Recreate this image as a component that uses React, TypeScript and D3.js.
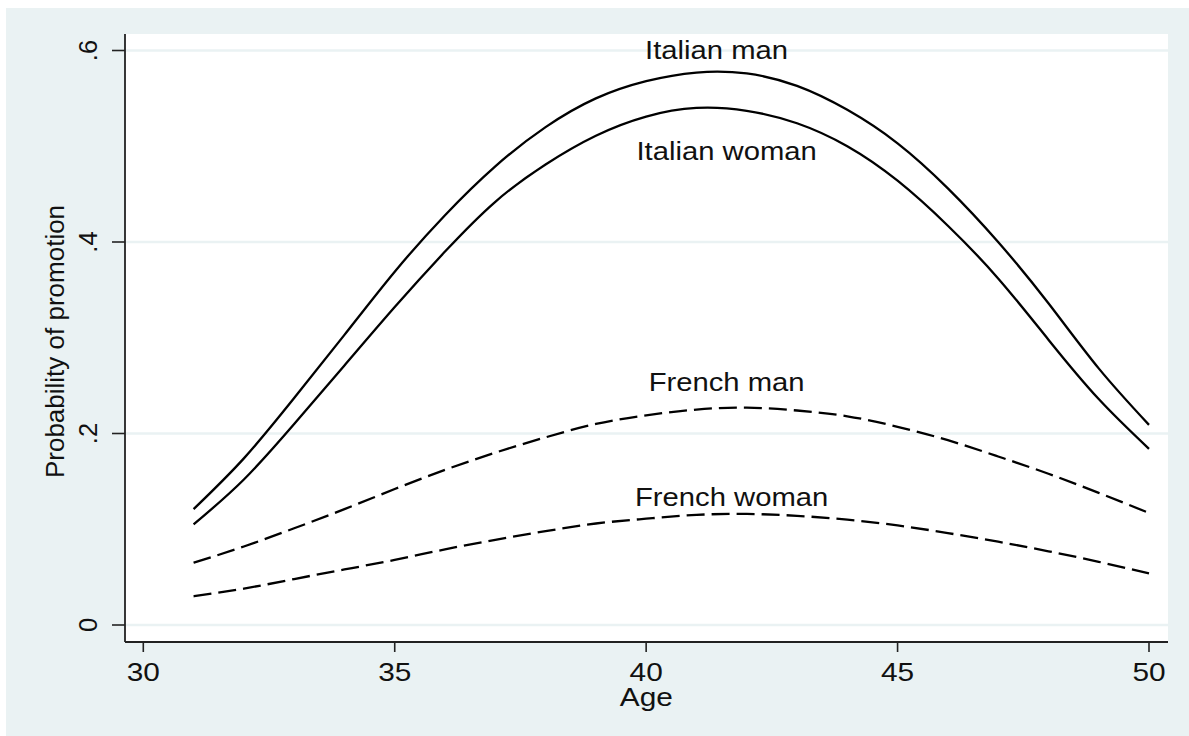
import * as d3 from 'd3'

const AGES = [31, 32, 33, 34, 35, 36, 37, 38, 39, 40, 41, 42, 43, 44, 45, 46, 47, 48, 49, 50]

const ITALIAN_MAN = [0.121, 0.174, 0.237, 0.303, 0.369, 0.428, 0.479, 0.52, 0.55, 0.568, 0.577, 0.576, 0.563, 0.538, 0.503, 0.456, 0.4, 0.336, 0.268, 0.209]
const ITALIAN_WOMAN = [0.105, 0.152, 0.21, 0.271, 0.332, 0.39, 0.442, 0.481, 0.511, 0.531, 0.54, 0.537, 0.524, 0.5, 0.464, 0.417, 0.362, 0.298, 0.236, 0.184]
const FRENCH_MAN = [0.065, 0.082, 0.101, 0.121, 0.142, 0.162, 0.18, 0.196, 0.21, 0.219, 0.225, 0.227, 0.224, 0.218, 0.207, 0.193, 0.176, 0.158, 0.138, 0.117]
const FRENCH_WOMAN = [0.03, 0.038, 0.048, 0.058, 0.068, 0.079, 0.089, 0.098, 0.106, 0.111, 0.115, 0.116, 0.114, 0.11, 0.104, 0.096, 0.087, 0.077, 0.066, 0.054]

const X_TICKS = [30, 35, 40, 45, 50]
const Y_TICKS = [0, 0.2, 0.4, 0.6]
const Y_TICK_LABELS = ['0', '.2', '.4', '.6']

const SERIES = [
  { name: 'Italian man', values: ITALIAN_MAN, dashed: false, labelAt: [41.4, 0.591] },
  { name: 'Italian woman', values: ITALIAN_WOMAN, dashed: false, labelAt: [41.6, 0.486] },
  { name: 'French man', values: FRENCH_MAN, dashed: true, labelAt: [41.6, 0.244] },
  { name: 'French woman', values: FRENCH_WOMAN, dashed: true, labelAt: [41.7, 0.124] },
]

const W = 1189
const H = 736
const FONT = 'Liberation Sans, Arial, Helvetica, sans-serif'
const BG = '#eaf2f3'
const STRETCH = 1.17

// horizontal text in the original is a bit wide, so stretch it sideways
function HText({ x, y, children, size = 25.5 }: { x: number; y: number; children: string; size?: number }) {
  return (
    <text
      transform={`translate(${x},${y}) scale(${STRETCH},1)`}
      textAnchor="middle"
      fontFamily={FONT}
      fontSize={size}
      fill="#111"
    >
      {children}
    </text>
  )
}

export default function App() {
  const plot = { left: 125, right: 1168, top: 34, bottom: 642 }
  const x = d3.scaleLinear().domain([30, 50]).range([143.3, 1149])
  const y = d3.scaleLinear().domain([0, 0.6]).range([625, 50.5])

  const line = d3
    .line<number>()
    .x((_, i) => x(AGES[i]))
    .y((d) => y(d))
    .curve(d3.curveNatural)

  return (
    <svg width={W} height={H} style={{ position: 'absolute', left: 0, top: 0, display: 'block' }}>
      <rect x={0} y={0} width={W} height={H} fill="#fff" />
      <rect x={6} y={8} width={W - 6} height={H - 8} fill={BG} />
      <rect x={plot.left} y={plot.top} width={plot.right - plot.left} height={plot.bottom - plot.top} fill="#fff" />

      {/* gridlines */}
      {Y_TICKS.map((t) => (
        <line key={t} x1={plot.left} x2={plot.right} y1={y(t)} y2={y(t)} stroke={BG} strokeWidth={2.6} />
      ))}

      {/* series */}
      {SERIES.map((s) => (
        <path
          key={s.name}
          d={line(s.values) ?? ''}
          fill="none"
          stroke="#000"
          strokeWidth={2.3}
          strokeDasharray={s.dashed ? '18,7' : undefined}
        />
      ))}

      {SERIES.map((s) => (
        <HText key={s.name} x={x(s.labelAt[0])} y={y(s.labelAt[1])} size={25}>
          {s.name}
        </HText>
      ))}

      {/* axes */}
      <line x1={plot.left} x2={plot.left} y1={plot.top} y2={plot.bottom} stroke="#222" strokeWidth={1.8} />
      <line x1={plot.left} x2={plot.right} y1={plot.bottom} y2={plot.bottom} stroke="#222" strokeWidth={1.8} />

      {Y_TICKS.map((t, i) => (
        <g key={t}>
          <line x1={112} x2={plot.left} y1={y(t)} y2={y(t)} stroke="#222" strokeWidth={1.6} />
          <text
            transform={`translate(97,${y(t)}) rotate(-90)`}
            textAnchor="middle"
            fontFamily={FONT}
            fontSize={25.5}
            fill="#111"
          >
            {Y_TICK_LABELS[i]}
          </text>
        </g>
      ))}

      {X_TICKS.map((t) => (
        <g key={t}>
          <line x1={x(t)} x2={x(t)} y1={plot.bottom} y2={652} stroke="#222" strokeWidth={1.6} />
          <HText x={x(t)} y={681}>{String(t)}</HText>
        </g>
      ))}

      <HText x={646.3} y={706}>Age</HText>
      <text
        transform={`translate(64,341.5) rotate(-90)`}
        textAnchor="middle"
        fontFamily={FONT}
        fontSize={26}
        fill="#111"
      >
        Probability of promotion
      </text>
    </svg>
  )
}
